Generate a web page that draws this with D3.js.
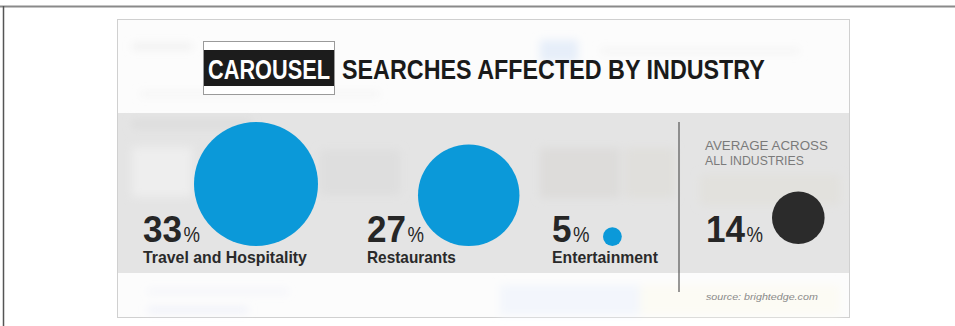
<!DOCTYPE html>
<html><head><meta charset="utf-8">
<script src="https://cdn.jsdelivr.net/npm/d3@7"></script>
<style>
html,body{margin:0;padding:0;background:#fff;}
svg{display:block;}
</style></head>
<body>
<svg id="chart" width="955" height="326"></svg>
<script>
// ---- data ----
const categories = ["Travel and Hospitality", "Restaurants", "Entertainment"];
const values = [33, 27, 5];
const averageValue = 14;
const averageLabel = ["AVERAGE ACROSS", "ALL INDUSTRIES"];
const titleHighlight = "CAROUSEL";
const titleRest = "SEARCHES AFFECTED BY INDUSTRY";
const sourceText = "source:  brightedge.com";

const svg = d3.select("#chart");
const font = "'Liberation Sans', Arial, sans-serif";

// text squeezed horizontally to a target width (condensed look)
function fitText(g, x, y, str, width, attrs) {
  const t = g.append("text").attr("x", 0).attr("y", 0).text(str).attr("font-family", font);
  Object.entries(attrs).forEach(([k, v]) => t.attr(k, v));
  const len = t.node().getComputedTextLength();
  t.attr("transform", `translate(${x},${y}) scale(${width / len},1)`);
  return t;
}

const defs = svg.append("defs");
defs.append("filter").attr("id", "blur").attr("x", "-30%").attr("y", "-100%").attr("width", "160%").attr("height", "300%")
  .append("feGaussianBlur").attr("stdDeviation", 4);

// outer frame
svg.append("line").attr("x1", 0).attr("x2", 955).attr("y1", 6.5).attr("y2", 6.5).attr("stroke", "#8a8a8a").attr("stroke-width", 2);
svg.append("line").attr("x1", 3.5).attr("x2", 3.5).attr("y1", 6).attr("y2", 326).attr("stroke", "#555").attr("stroke-width", 1.5);

// panel
const panel = svg.append("g");
panel.append("rect").attr("x", 117.5).attr("y", 19.5).attr("width", 732).attr("height", 298)
  .attr("fill", "#fcfcfc").attr("stroke", "#d0d0d0");
panel.append("rect").attr("x", 118).attr("y", 113).attr("width", 731).attr("height", 160).attr("fill", "#e4e4e4");

// faint background decoration (blurred screenshot)
const deco = panel.append("g").attr("filter", "url(#blur)");
[[132, 44, 60, 5, "#ececec"], [540, 40, 38, 22, "#e6eef9"], [600, 49, 200, 4, "#f1f1f1"],
 [140, 92, 240, 4, "#f2f2f2"], [132, 120, 120, 8, "#dcdcdc"],
 [132, 147, 60, 50, "#eeeeee"], [320, 150, 80, 45, "#dedede"], [540, 148, 80, 50, "#dddcda"],
 [625, 148, 50, 50, "#e0dfdc"], [700, 175, 140, 30, "#e2e1dd"],
 [148, 290, 140, 3, "#eceef8"], [148, 308, 100, 4, "#e8ebf8"],
 [500, 285, 140, 30, "#f3f6fc"], [640, 285, 200, 30, "#fcfbf4"]]
  .forEach(([x, y, w, h, c]) => deco.append("rect").attr("x", x).attr("y", y).attr("width", w).attr("height", h).attr("fill", c));

// ---- title ----
const tg = svg.append("g");
tg.append("rect").attr("x", 203.5).attr("y", 41.5).attr("width", 131).attr("height", 53)
  .attr("fill", "#fff").attr("stroke", "#9a9a9a").attr("stroke-width", 1);
tg.append("rect").attr("x", 204).attr("y", 50).attr("width", 130).attr("height", 36).attr("fill", "#1c1c1c");
fitText(tg, 208, 78.5, titleHighlight, 122, {"font-weight": "bold", "font-size": 28, fill: "#fff"});
fitText(tg, 342, 78.5, titleRest, 423, {"font-weight": "bold", "font-size": 28, fill: "#1a1a1a"});

// ---- scales ----
const r = d3.scaleLinear().domain([0, 33]).range([0, 62]);
const labelX = d3.scaleOrdinal().domain(categories).range([143, 367, 552]);
const baseY = 246;        // circles sit on this line
const numY = 241.5;       // baseline of big numbers
const nameY = 263;        // baseline of category names
const blue = "#0b99d9";

function numberLabel(g, x, v) {
  const numW = String(v).length * 19.5;
  fitText(g, x, numY, String(v), numW, {"font-weight": "bold", "font-size": 37, fill: "#262626"});
  fitText(g, x + numW + 1.5, numY, "%", 16.5, {"font-size": 22, fill: "#262626"});
}

const nameW = [164, 89, 106];
const groups = svg.selectAll("g.cat").data(categories.map((c, i) => ({c, v: values[i], w: nameW[i]})))
  .join("g").attr("class", "cat");

groups.append("circle")
  .attr("cx", d => labelX(d.c) + 51 + r(d.v))
  .attr("cy", d => baseY - r(d.v))
  .attr("r", d => r(d.v))
  .attr("fill", blue);

groups.each(function(d) {
  const g = d3.select(this);
  numberLabel(g, labelX(d.c), d.v);
  fitText(g, labelX(d.c), nameY, d.c, d.w, {"font-weight": "bold", "font-size": 16, fill: "#2a2a2a"});
});

// divider
svg.append("line").attr("x1", 679).attr("x2", 679).attr("y1", 122).attr("y2", 292)
  .attr("stroke", "#555").attr("stroke-width", 1.2);

// ---- average ----
const avgX = 706;
const ag = svg.append("g");
averageLabel.forEach((s, i) =>
  fitText(ag, avgX - 1, 150 + i * 15, s, i === 0 ? 123 : 99, {"font-size": 12.5, fill: "#7a7a7a"}));
ag.append("circle").attr("cx", avgX + 66 + r(averageValue)).attr("cy", baseY - 2 - r(averageValue))
  .attr("r", r(averageValue)).attr("fill", "#2b2b2b");
numberLabel(ag, avgX, averageValue);

fitText(svg, 706, 300, sourceText, 112, {"font-style": "italic", "font-size": 9.5, fill: "#8a8a8a"});
</script>
</body></html>
